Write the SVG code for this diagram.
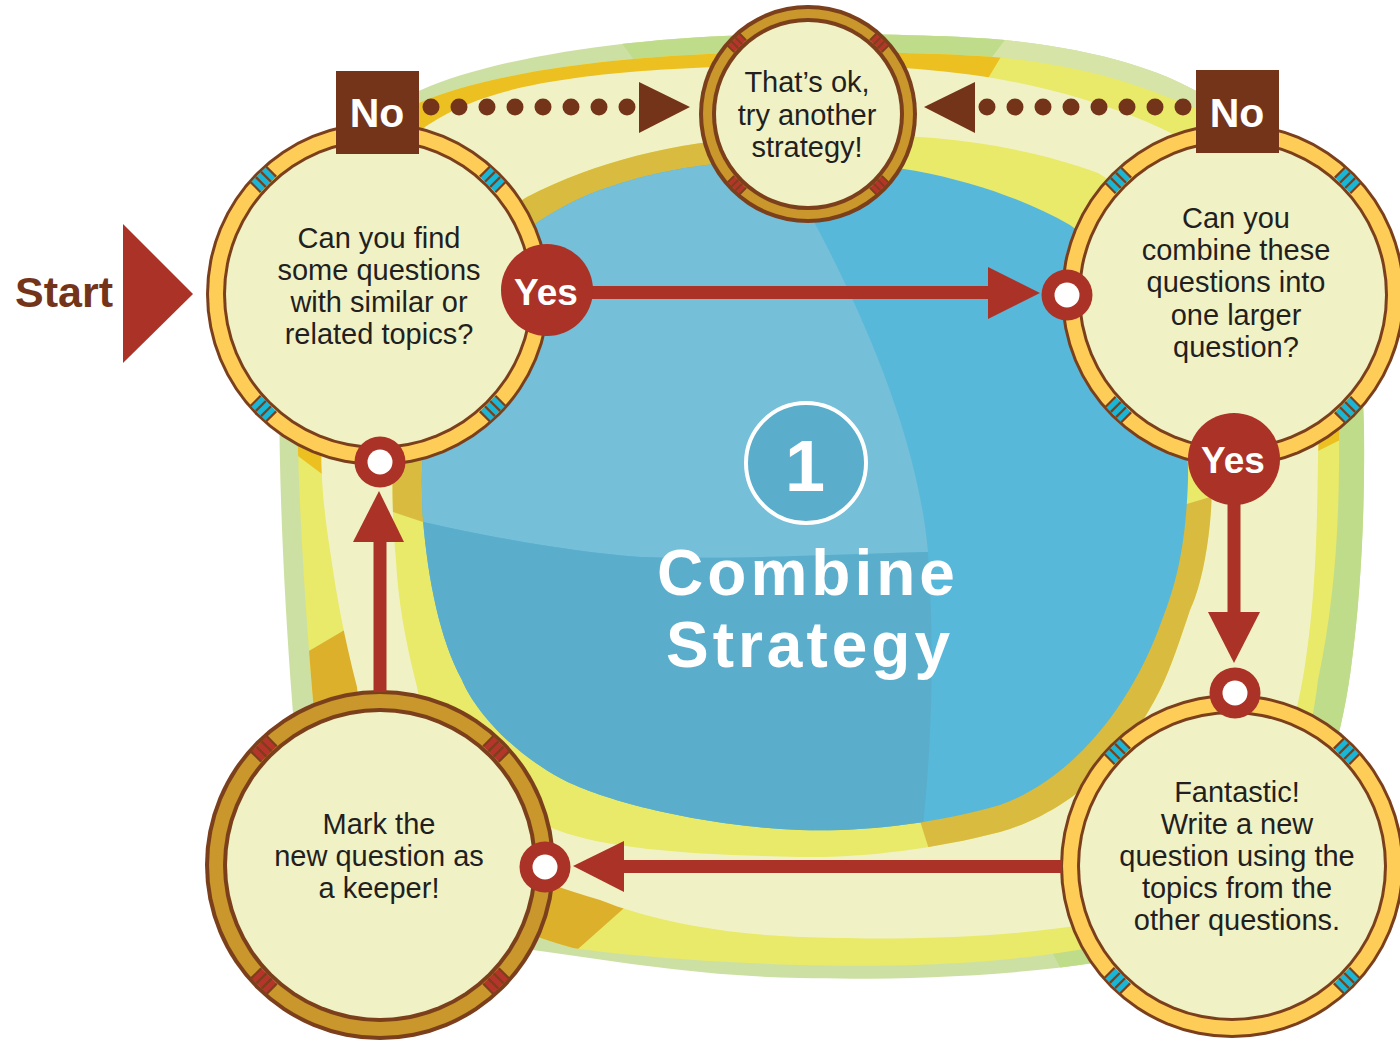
<svg xmlns="http://www.w3.org/2000/svg" width="1400" height="1042" viewBox="0 0 1400 1042">
<defs>
<style>
.body{font-family:"Liberation Sans",Arial,sans-serif;font-size:29px;fill:#231f20;text-anchor:middle}
.bold{font-family:"Liberation Sans",Arial,sans-serif;font-weight:bold;text-anchor:middle;fill:#fff}
.rb{fill:#7b3f1b}
.cream{fill:#f0f2c5}
.by{fill:#fdcd58}
.bg{fill:#c9972b}
.red{fill:#ab3226}
.brown{fill:#74341a}
</style>
<path id="p1" d="M 800,34 C 900,34 960,36 1005,40 C 1100,50 1160,70 1200,93 C 1300,150 1362,260 1364,430 C 1365,520 1360,600 1352,660 C 1335,800 1280,930 1100,962 C 1000,978 880,980 800,978 C 700,976 620,962 533,950 C 380,920 300,830 292,700 C 283,580 277,450 280,330 C 283,200 330,120 421,90 C 500,55 650,34 800,34 Z"/>
<path id="p2" d="M 800,52 C 900,52 960,54 1005,58 C 1100,68 1150,90 1200,110 C 1300,165 1338,270 1339,430 C 1340,520 1335,600 1318,680 C 1300,830 1230,915 1100,946 C 1000,966 880,967 800,965 C 700,962 620,955 573,948 C 400,900 318,810 313,700 C 303,580 295,450 297,330 C 300,210 340,140 419,103 C 500,68 650,52 800,52 Z"/>
<path id="p3" d="M 800,65 C 900,65 980,72 1050,90 C 1150,115 1250,160 1290,240 C 1318,310 1320,400 1318,460 C 1317,540 1315,600 1305,665 C 1285,800 1220,900 1100,922 C 1000,940 880,940 800,937 C 720,934 650,920 600,900 C 520,875 470,860 430,820 C 380,770 360,730 357,687 C 345,640 337,600 330,550 C 322,500 320,460 322,430 C 325,300 350,200 425,127 C 480,90 560,68 800,65 Z"/>
<path id="p4" d="M 780,136 C 900,130 1010,140 1098,173 C 1180,220 1212,350 1212,480 C 1212,540 1200,590 1190,610 C 1180,640 1170,670 1160,690 C 1120,770 1060,815 1000,832 C 930,850 860,858 800,857 C 700,855 610,850 557,830 C 470,800 425,740 417,687 C 405,640 398,600 396,560 C 392,520 392,480 393,440 C 395,330 440,250 527,197 C 600,160 680,140 780,136 Z"/>
<path id="p5" d="M 780,160 C 900,158 1000,185 1070,225 C 1150,280 1190,380 1188,480 C 1186,540 1178,580 1162,620 C 1130,710 1070,780 1000,805 C 930,825 860,832 800,830 C 700,826 600,800 560,778 C 500,745 470,700 462,680 C 440,640 428,580 423,520 C 418,450 430,330 480,270 C 520,230 560,205 600,190 C 660,168 720,161 780,160 Z"/>
<clipPath id="c1"><use href="#p1"/></clipPath>
<clipPath id="c2"><use href="#p2"/></clipPath>
<clipPath id="c4"><use href="#p4"/></clipPath>
<clipPath id="c5"><use href="#p5"/></clipPath>
<g id="tc"><rect x="-7" y="-11" width="14" height="22" fill="#19b6d6"/><path d="M-7,-11H7M-7,-3.7H7M-7,3.7H7M-7,11H7" stroke="#7b3f1b" stroke-width="2.2"/></g>
<g id="tr"><rect x="-7" y="-11" width="14" height="22" fill="#b5352a"/><path d="M-7,-11H7M-7,-3.7H7M-7,3.7H7M-7,11H7" stroke="#7b3f1b" stroke-width="2.2"/></g>
<g id="tr2"><rect x="-4.5" y="-8.5" width="9" height="17" fill="#b5352a"/><path d="M-4.5,-8.5H4.5M-4.5,-2.8H4.5M-4.5,2.8H4.5M-4.5,8.5H4.5" stroke="#7b3f1b" stroke-width="1.8"/></g>
<g id="dot"><circle r="25.5" fill="#ab3226"/><circle r="12.5" fill="#fff"/></g>
</defs>

<g id="background">
  <use href="#p1" fill="#cde0a3"/>
  <g clip-path="url(#c1)">
    <polygon points="590,0 1035,0 810,300" fill="#bfdc8b"/>
    <polygon points="1035,0 1400,0 1400,200 810,300" fill="#d6e4a8"/>
    <polygon points="810,300 1400,200 1400,1042 1100,1042 810,500" fill="#bfdc8b"/>
  </g>
  <use href="#p2" fill="#e9e96a"/>
  <g clip-path="url(#c2)">
    <polygon points="330,480 250,420 250,0 1035,0 975,100 700,300" fill="#ebc020"/>
    <polygon points="1290,465 1400,410 1400,200 1200,300" fill="#ebc020"/>
    <polygon points="290,662 370,615 560,800 650,885 560,965 200,1000 200,662" fill="#dcb02a"/>
  </g>
  <use href="#p3" fill="#f0f2c5"/>
  <use href="#p4" fill="#e9e96a"/>
  <g clip-path="url(#c4)">
    <polygon points="423,522 393,512 300,480 300,100 805,100 805,200 600,400" fill="#d8bb3f"/>
    <polygon points="1150,515 1300,470 1300,950 945,900 915,805 1000,600" fill="#d8bb3f"/>
  </g>
  <use href="#p5" fill="#58b8d9"/>
  <g clip-path="url(#c5)">
    <path d="M 300,100 L 770,100 L 780,160 C 820,230 915,400 928,552 C 850,554 720,560 640,557 C 570,552 480,535 423,522 L 300,500 Z" fill="#75bfd8"/>
    <path d="M 300,500 L 423,522 C 480,535 570,552 640,557 C 720,560 850,554 928,552 C 935,650 932,760 920,850 L 300,900 Z" fill="#5aaecb"/>
  </g>
  <circle cx="806" cy="463" r="60" fill="#5aaecb" stroke="#fff" stroke-width="4"/>
  <text class="bold" x="805" y="491" font-size="72">1</text>
  <text class="bold" x="808" y="595" font-size="64" letter-spacing="4">Combine</text>
  <text class="bold" x="810" y="667" font-size="64" letter-spacing="4">Strategy</text>
</g>

<g id="start">
  <text x="15" y="307" font-family="Liberation Sans, Arial, sans-serif" font-weight="bold" font-size="43" fill="#74341a">Start</text>
  <polygon points="123,224 123,363 193,294" fill="#ab3226"/>
</g>

<g id="node-find">
  <circle cx="378" cy="294" r="172" class="rb"/>
  <circle cx="378" cy="294" r="169" class="by"/>
  <use href="#tc" transform="translate(378,294) rotate(45) translate(162,0)"/>
  <use href="#tc" transform="translate(378,294) rotate(135) translate(162,0)"/>
  <use href="#tc" transform="translate(378,294) rotate(225) translate(162,0)"/>
  <use href="#tc" transform="translate(378,294) rotate(315) translate(162,0)"/>
  <circle cx="378" cy="294" r="155" class="rb"/>
  <circle cx="378" cy="294" r="152" class="cream"/>
  <text class="body" x="379" y="248">Can you find</text>
  <text class="body" x="379" y="280">some questions</text>
  <text class="body" x="379" y="312">with similar or</text>
  <text class="body" x="379" y="344">related topics?</text>
</g>

<g id="node-try">
  <circle cx="808" cy="114" r="109" class="rb"/>
  <circle cx="808" cy="114" r="105" class="bg"/>
  <use href="#tr2" transform="translate(808,114) rotate(45) translate(100.5,0)"/>
  <use href="#tr2" transform="translate(808,114) rotate(135) translate(100.5,0)"/>
  <use href="#tr2" transform="translate(808,114) rotate(225) translate(100.5,0)"/>
  <use href="#tr2" transform="translate(808,114) rotate(315) translate(100.5,0)"/>
  <circle cx="808" cy="114" r="96" class="rb"/>
  <circle cx="808" cy="114" r="92" class="cream"/>
  <text class="body" x="807" y="92">That’s ok,</text>
  <text class="body" x="807" y="125">try another</text>
  <text class="body" x="807" y="157">strategy!</text>
</g>

<g id="node-combine">
  <circle cx="1233" cy="295" r="172" class="rb"/>
  <circle cx="1233" cy="295" r="169" class="by"/>
  <use href="#tc" transform="translate(1233,295) rotate(45) translate(162,0)"/>
  <use href="#tc" transform="translate(1233,295) rotate(135) translate(162,0)"/>
  <use href="#tc" transform="translate(1233,295) rotate(225) translate(162,0)"/>
  <use href="#tc" transform="translate(1233,295) rotate(315) translate(162,0)"/>
  <circle cx="1233" cy="295" r="155" class="rb"/>
  <circle cx="1233" cy="295" r="152" class="cream"/>
  <text class="body" x="1236" y="228">Can you</text>
  <text class="body" x="1236" y="260">combine these</text>
  <text class="body" x="1236" y="292">questions into</text>
  <text class="body" x="1236" y="325">one larger</text>
  <text class="body" x="1236" y="357">question?</text>
</g>

<g id="node-write">
  <circle cx="1232" cy="866" r="172" class="rb"/>
  <circle cx="1232" cy="866" r="169" class="by"/>
  <use href="#tc" transform="translate(1232,866) rotate(45) translate(162,0)"/>
  <use href="#tc" transform="translate(1232,866) rotate(135) translate(162,0)"/>
  <use href="#tc" transform="translate(1232,866) rotate(225) translate(162,0)"/>
  <use href="#tc" transform="translate(1232,866) rotate(315) translate(162,0)"/>
  <circle cx="1232" cy="866" r="155" class="rb"/>
  <circle cx="1232" cy="866" r="152" class="cream"/>
  <text class="body" x="1237" y="802">Fantastic!</text>
  <text class="body" x="1237" y="834">Write a new</text>
  <text class="body" x="1237" y="866">question using the</text>
  <text class="body" x="1237" y="898">topics from the</text>
  <text class="body" x="1237" y="930">other questions.</text>
</g>

<g id="node-keeper">
  <circle cx="380" cy="865" r="175" class="rb"/>
  <circle cx="380" cy="865" r="171" class="bg"/>
  <use href="#tr" transform="translate(380,865) rotate(45) translate(164,0)"/>
  <use href="#tr" transform="translate(380,865) rotate(135) translate(164,0)"/>
  <use href="#tr" transform="translate(380,865) rotate(225) translate(164,0)"/>
  <use href="#tr" transform="translate(380,865) rotate(315) translate(164,0)"/>
  <circle cx="380" cy="865" r="157" class="rb"/>
  <circle cx="380" cy="865" r="153" class="cream"/>
  <text class="body" x="379" y="834">Mark the</text>
  <text class="body" x="379" y="866">new question as</text>
  <text class="body" x="379" y="898">a keeper!</text>
</g>

<g id="connectors">
  <g class="brown">
    <rect x="336" y="71" width="83" height="83"/>
    <rect x="1196" y="70" width="83" height="83"/>
    <circle cx="431" cy="107" r="8.5"/><circle cx="459" cy="107" r="8.5"/><circle cx="487" cy="107" r="8.5"/><circle cx="515" cy="107" r="8.5"/>
    <circle cx="543" cy="107" r="8.5"/><circle cx="571" cy="107" r="8.5"/><circle cx="599" cy="107" r="8.5"/><circle cx="627" cy="107" r="8.5"/>
    <polygon points="639,82 639,133 690,107"/>
    <circle cx="1183" cy="107" r="8.5"/><circle cx="1155" cy="107" r="8.5"/><circle cx="1127" cy="107" r="8.5"/><circle cx="1099" cy="107" r="8.5"/>
    <circle cx="1071" cy="107" r="8.5"/><circle cx="1043" cy="107" r="8.5"/><circle cx="1015" cy="107" r="8.5"/><circle cx="987" cy="107" r="8.5"/>
    <polygon points="975,82 975,133 924,107"/>
  </g>
  <text class="bold" x="377" y="127" font-size="41">No</text>
  <text class="bold" x="1237" y="127" font-size="41">No</text>
  <g class="red">
    <rect x="590" y="286" width="400" height="13"/>
    <polygon points="988,267 988,319 1040,293"/>
    <rect x="1227.5" y="500" width="13" height="114"/>
    <polygon points="1208,612 1260,612 1234,663"/>
    <rect x="622" y="860" width="440" height="13"/>
    <polygon points="624,841 624,892 573,866"/>
    <rect x="373.5" y="540" width="13" height="152"/>
    <polygon points="353,542 404,542 379,491"/>
    <circle cx="547" cy="290" r="46"/>
    <circle cx="1234" cy="459" r="46"/>
  </g>
  <text class="bold" x="546" y="305" font-size="37">Yes</text>
  <text class="bold" x="1233" y="473" font-size="37">Yes</text>
  <use href="#dot" x="1067" y="295"/>
  <use href="#dot" x="1235" y="693"/>
  <use href="#dot" x="545" y="867"/>
  <use href="#dot" x="380" y="462"/>
</g>
</svg>
